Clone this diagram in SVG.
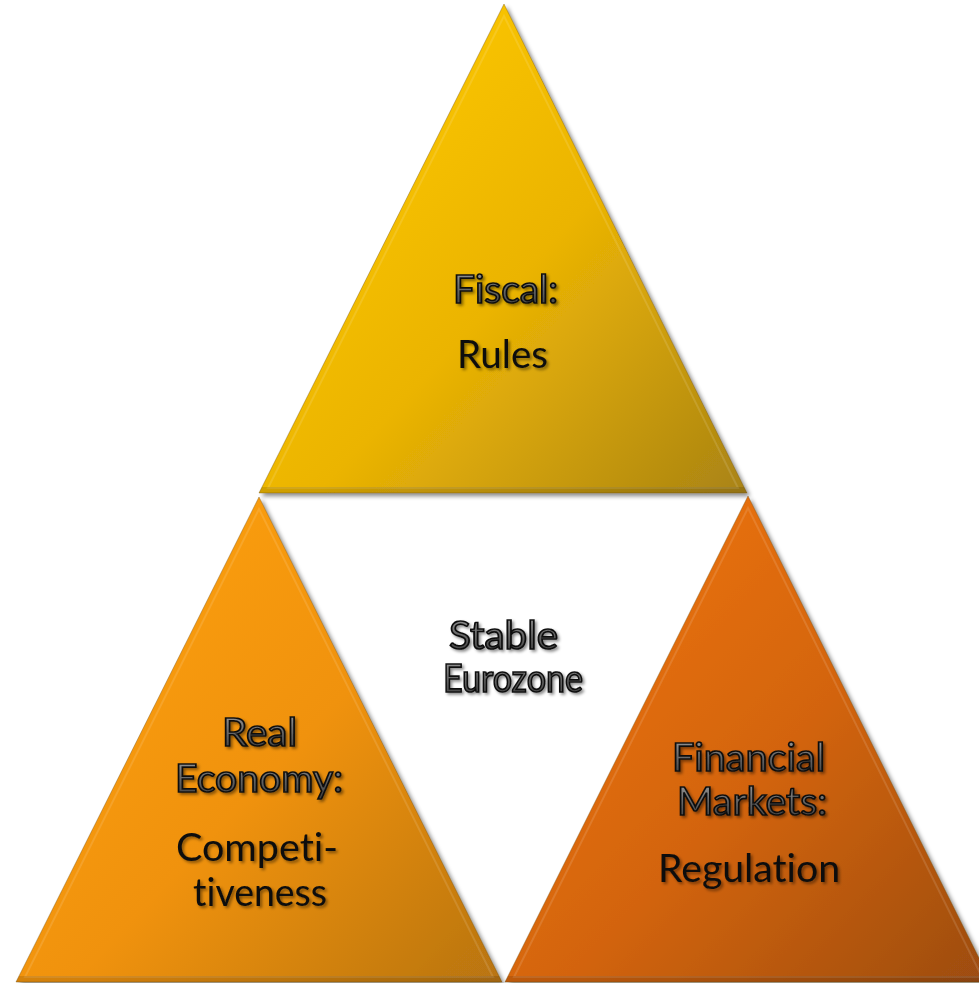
<svg xmlns="http://www.w3.org/2000/svg" width="979" height="983" viewBox="0 0 979 983">
  <defs>
    <linearGradient id="gFiscal" x1="0.15" y1="0.2" x2="1" y2="1">
      <stop offset="0" stop-color="#FBC600"/>
      <stop offset="0.45" stop-color="#EBB404"/>
      <stop offset="1" stop-color="#A98314"/>
    </linearGradient>
    <linearGradient id="gReal" x1="0.15" y1="0.2" x2="1" y2="1">
      <stop offset="0" stop-color="#FB9E10"/>
      <stop offset="0.45" stop-color="#F0920C"/>
      <stop offset="1" stop-color="#B87412"/>
    </linearGradient>
    <linearGradient id="gFin" x1="0.15" y1="0.2" x2="1" y2="1">
      <stop offset="0" stop-color="#EA720C"/>
      <stop offset="0.45" stop-color="#D3640B"/>
      <stop offset="1" stop-color="#9C4C12"/>
    </linearGradient>
    <linearGradient id="metal" x1="0" y1="0" x2="0" y2="1">
      <stop offset="0" stop-color="#a8a8a8"/>
      <stop offset="0.5" stop-color="#6a6a6a"/>
      <stop offset="1" stop-color="#3a3a3a"/>
    </linearGradient>
    <filter id="shapeShadow" x="-10%" y="-10%" width="125%" height="125%">
      <feDropShadow dx="3" dy="3" stdDeviation="2" flood-color="#000" flood-opacity="0.45"/>
    </filter>
    <filter id="textShadow" x="-10%" y="-20%" width="130%" height="150%">
      <feDropShadow dx="2" dy="2" stdDeviation="1.5" flood-color="#000" flood-opacity="0.45"/>
    </filter>
  </defs>
  <style>
    .tri { stroke: #6b4a10; stroke-opacity: 0.35; stroke-width: 1; filter: url(#shapeShadow); }
    .rim { fill: none; stroke: #ffffff; stroke-opacity: 0.12; stroke-width: 2; }
    .base { fill: #000; fill-opacity: 0.12; }
    text { font-family: Lato, "Liberation Sans", sans-serif; font-size: 38px;
           font-variant-ligatures: none; font-feature-settings: "liga" 0, "clig" 0;
           filter: url(#textShadow); }
    .head { font-weight: 400; fill: url(#metal); stroke: #111111; stroke-width: 1.7; }
    .body { font-weight: 400; fill: #0d0d0d; }
  </style>

  <rect width="979" height="983" fill="#ffffff"/>

  <!-- Fiscal (top) -->
  <g id="fiscal">
    <polygon class="tri" points="504,4 259,493 747,493" fill="url(#gFiscal)"/>
    <polygon class="rim" points="504,16 268,488 738,488"/>
    <polygon class="base" points="262,487 744,487 747,493 259,493"/>
    <text class="head" x="453" y="303" textLength="105" lengthAdjust="spacingAndGlyphs">Fiscal:</text>
    <text class="body" x="457" y="368" textLength="91" lengthAdjust="spacingAndGlyphs">Rules</text>
  </g>

  <!-- Real Economy (bottom left) -->
  <g id="real-economy">
    <polygon class="tri" points="259,497 16,982 502,982" fill="url(#gReal)"/>
    <polygon class="rim" points="259,509 25,977 493,977"/>
    <polygon class="base" points="19,976 499,976 502,982 16,982"/>
    <text class="head" x="222" y="746" textLength="75" lengthAdjust="spacingAndGlyphs">Real</text>
    <text class="head" x="175" y="792" textLength="168" lengthAdjust="spacingAndGlyphs">Economy:</text>
    <text class="body" x="176" y="861" textLength="162" lengthAdjust="spacingAndGlyphs">Competi-</text>
    <text class="body" x="193" y="906" textLength="134" lengthAdjust="spacingAndGlyphs">tiveness</text>
  </g>

  <!-- Financial Markets (bottom right) -->
  <g id="financial-markets">
    <polygon class="tri" points="748,496 505,982 991,982" fill="url(#gFin)"/>
    <polygon class="rim" points="748,508 514,977 982,977"/>
    <polygon class="base" points="508,976 988,976 991,982 505,982"/>
    <text class="head" x="672" y="771" textLength="153" lengthAdjust="spacingAndGlyphs">Financial</text>
    <text class="head" x="677" y="815" textLength="150" lengthAdjust="spacingAndGlyphs">Markets:</text>
    <text class="body" x="658" y="882" textLength="182" lengthAdjust="spacingAndGlyphs">Regulation</text>
  </g>

  <!-- Centre label -->
  <g id="stable-eurozone">
    <text class="head" x="449" y="649" textLength="109" lengthAdjust="spacingAndGlyphs">Stable</text>
    <text class="head" x="443" y="692" textLength="140" lengthAdjust="spacingAndGlyphs">Eurozone</text>
  </g>
</svg>
